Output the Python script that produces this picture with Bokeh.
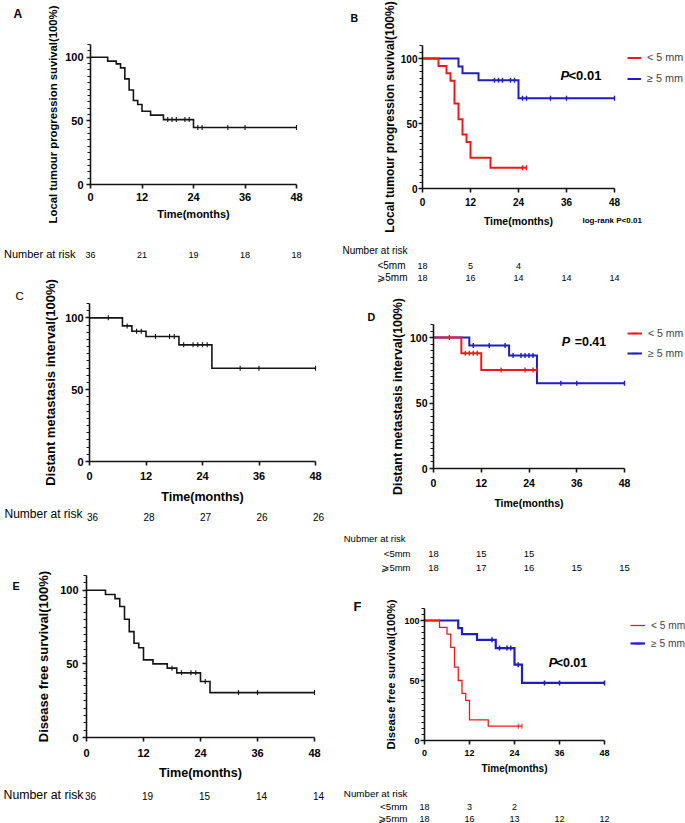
import numpy as np
from bokeh.plotting import figure
from bokeh.core.properties import value
from bokeh.models import (Range1d, FixedTicker, Label, LabelSet, ColumnDataSource,
                          Legend, LegendItem)
from bokeh.layouts import row, column
from bokeh.embed import file_html
from bokeh.resources import INLINE

# ------------------------------------------------------------------ data
x_ticks = [0, 12, 24, 36, 48]
y_ticks = [0, 50, 100]
y_minor = list(range(0, 111, 5))
risk_times = [0, 12, 24, 36, 48]
group_labels = ["< 5 mm", "\u2265 5 mm"]

# A: local tumour progression survival, all patients
a_t = [0, 4, 6, 7, 8, 9, 10, 11, 12, 14, 17, 24, 48]
a_s = [100, 96.9, 94.8, 91.6, 83.0, 74.3, 66.0, 62.8, 57.6, 54.5, 51.0, 44.8, 44.8]
a_c = [18, 19, 20, 22, 23, 25, 26, 32, 36, 48]
a_risk = [36, 21, 19, 18, 18]

# B: local tumour progression survival by margin
b_lo_t = [0, 4, 6, 7, 8, 9, 10, 11, 12, 17, 26]
b_lo_s = [100, 94.3, 88.7, 82.8, 65.3, 53.2, 41.6, 35.7, 23.7, 15.9, 15.9]
b_lo_c = [25, 26]
b_hi_t = [0, 9, 10, 14, 24, 48]
b_hi_s = [100, 93.8, 88.7, 83.3, 69.4, 69.4]
b_hi_c = [18, 19, 20, 22, 23, 25, 26, 32, 36, 48]
b_risk_lo = [18, 5, 4]
b_risk_hi = [18, 16, 14, 14, 14]

# C: distant metastasis interval, all patients
c_t = [0, 7, 9, 12, 19, 26, 48]
c_s = [100, 94.4, 90.7, 87.0, 81.2, 64.9, 64.9]
c_c = [4, 8, 10, 11, 14, 17, 18, 20, 22, 23, 24, 25, 32, 36, 48]
c_risk = [36, 28, 27, 26, 26]

# D: distant metastasis interval by margin
d_lo_t = [0, 7, 12, 26]
d_lo_s = [100, 88.0, 75.3, 75.3]
d_lo_c = [4, 8, 9, 10, 11, 17, 23, 25, 26]
d_hi_t = [0, 9, 19, 26, 48]
d_hi_s = [100, 93.9, 86.3, 65.1, 65.1]
d_hi_c = [10, 14, 18, 20, 22, 23, 24, 25, 32, 36, 48]
d_risk_lo = [18, 15, 15]
d_risk_hi = [18, 17, 16, 15, 15]

# E: disease free survival, all patients
e_t = [0, 4, 6, 7, 8, 9, 10, 11, 12, 14, 17, 19, 24, 26, 48]
e_s = [100, 97.1, 94.3, 88.9, 80.3, 71.9, 64.0, 60.9, 52.7, 50.0, 47.1, 43.9, 38.0, 30.5, 30.5]
e_c = [18, 20, 22, 23, 25, 32, 36, 48]
e_risk = [36, 19, 15, 14, 14]

# F: disease free survival by margin
f_lo_t = [0, 4, 6, 7, 8, 9, 10, 11, 12, 17, 26]
f_lo_s = [100, 94.2, 88.6, 77.6, 61.2, 50.0, 39.3, 33.5, 17.2, 11.9, 11.9]
f_lo_c = [25, 26]
f_hi_t = [0, 9, 10, 14, 19, 24, 26, 48]
f_hi_s = [100, 93.6, 88.6, 83.9, 77.0, 63.2, 48.0, 48.0]
f_hi_c = [18, 20, 22, 23, 25, 32, 36, 48]
f_risk_lo = [18, 3, 2]
f_risk_hi = [18, 16, 13, 12, 12]

# ------------------------------------------------------------------ style
FONT = "Liberation Sans"
RED = "#EE1A1A"
BLUE = "#1E1EC4"
BLACK = "#151515"


def step_value(times, surv, t):
    idx = 0
    for i, tt in enumerate(times):
        if tt <= t:
            idx = i
    return surv[idx]


def make_panel(cfg):
    W, H = cfg["W"], cfg["H"]
    ppx = cfg["w48"] / 48.0      # pixels per month
    ppy = cfg["h110"] / 110.0    # pixels per percent
    x_rng = Range1d(-cfg["X0"] / ppx, (W - cfg["X0"]) / ppx)
    y_rng = Range1d(-(H - cfg["Y0"]) / ppy, cfg["Y0"] / ppy)
    p = figure(width=W, height=H, x_range=x_rng, y_range=y_rng,
               output_backend="svg", toolbar_location=None,
               min_border=0, min_border_left=0, min_border_right=0,
               min_border_top=0, min_border_bottom=0)
    p.outline_line_color = None
    p.xgrid.visible = False
    p.ygrid.visible = False
    p.background_fill_color = "white"
    p.border_fill_color = "white"

    xa, ya = p.xaxis[0], p.yaxis[0]
    xa.fixed_location = 0
    ya.fixed_location = 0
    xa.ticker = FixedTicker(ticks=x_ticks, minor_ticks=[])
    xa.bounds = (0, 48)
    ya.ticker = FixedTicker(ticks=y_ticks, minor_ticks=y_minor)
    ya.bounds = (0, 110)
    xa.axis_label = "Time(months)"
    ya.axis_label = cfg["ylabel"]
    for ax, so, lso, tsize in ((xa, cfg["xs1"], cfg["xs2"], cfg["xtitle"]),
                               (ya, cfg["ys1"], cfg["ys2"], cfg["ytitle"])):
        ax.axis_line_width = 1.6
        ax.axis_line_color = BLACK
        ax.major_tick_line_width = 1.6
        ax.major_tick_line_color = BLACK
        ax.major_tick_in = 0
        ax.major_tick_out = 4
        ax.minor_tick_in = 0
        ax.minor_tick_out = 3
        ax.minor_tick_line_width = 1
        ax.minor_tick_line_color = BLACK
        ax.major_label_standoff = int(so)
        ax.axis_label_standoff = int(lso)
        ax.major_label_text_font = FONT
        ax.major_label_text_font_style = "bold"
        ax.major_label_text_font_size = f"{cfg['tick']}px"
        ax.major_label_text_color = "black"
        ax.axis_label_text_font = FONT
        ax.axis_label_text_font_style = "bold"
        ax.axis_label_text_font_size = f"{tsize}px"
        ax.axis_label_text_color = "black"

    group_renderers = []
    for times, surv, cens, color, lw in cfg["curves"]:
        ln = p.step(x=times, y=surv, mode="after", line_color=color, line_width=lw,
                    line_join="miter")
        cy = [step_value(times, surv, t) for t in cens]
        sc = p.scatter(x=cens, y=cy, marker="dash", angle=np.pi / 2, size=5,
                       line_color=color, line_width=max(1.0, lw * 0.7))
        group_renderers.append([ln, sc])

    # panel letter (anchored to the top of the y axis); yo is the baseline offset
    txt, size, style, xo, yo = cfg["letter"]
    p.add_layout(Label(x=0, y=110, x_offset=xo, y_offset=yo + round(size * 0.3), text=txt,
                       text_font=FONT, text_font_size=f"{size}px", text_font_style=style,
                       text_align="left", text_baseline="middle", text_color="black"))

    # number at risk: row labels
    for txt, xo, yo in cfg["risk_labels"]:
        p.add_layout(Label(x=0, y=0, x_offset=xo, y_offset=yo, text=txt,
                           text_font=FONT, text_font_size=f"{cfg['risk_size']}px",
                           text_align="right", text_baseline="middle", text_color="black"))
    # number at risk: counts
    for counts, yo in cfg["risk_rows"]:
        n = len(counts)
        src = ColumnDataSource(dict(x=risk_times[:n], y=[0] * n, text=[str(v) for v in counts]))
        p.add_layout(LabelSet(x="x", y="y", text="text", source=src,
                              x_offset=cfg.get("num_xo", 0), y_offset=yo,
                              text_font=value(FONT),
                              text_font_size=value(f"{cfg['num_size']}px"),
                              text_align="center", text_baseline="middle", text_color="black"))

    # P value
    if "pval" in cfg:
        px_, py_, rest, rest_xo, psize = cfg["pval"]
        p.add_layout(Label(x=px_, y=py_, text="P", text_font=FONT,
                           text_font_size=f"{psize}px", text_font_style="bold italic",
                           text_align="left", text_baseline="middle", text_color="black"))
        p.add_layout(Label(x=px_, y=py_, x_offset=rest_xo, text=rest, text_font=FONT,
                           text_font_size=f"{psize}px", text_font_style="bold",
                           text_align="left", text_baseline="middle", text_color="black"))
    for txt, nx, ny, nyo, nsize in cfg.get("notes", []):
        p.add_layout(Label(x=nx, y=ny, y_offset=nyo, text=txt, text_font=FONT,
                           text_font_size=f"{nsize}px", text_font_style="bold",
                           text_align="left", text_baseline="middle", text_color="black"))

    if "legend" in cfg:
        lx, ly, gw, ih, lsize = cfg["legend"]
        # groups drawn as [>=5 (blue), <5 (red)] ; legend lists <5 first
        items = [LegendItem(label=group_labels[0], renderers=group_renderers[1]),
                 LegendItem(label=group_labels[1], renderers=group_renderers[0])]
        lg = Legend(items=items, location=(lx, ly), orientation="vertical",
                    padding=0, margin=0, spacing=0, glyph_width=gw, glyph_height=ih,
                    label_height=ih, label_standoff=6, label_text_font=FONT,
                    label_text_font_size=f"{lsize}px", border_line_color=None,
                    background_fill_alpha=0)
        p.add_layout(lg)
    return p


cfg_a = dict(W=340, H=270, X0=90, Y0=184, w48=206, h110=140,
             ylabel="Local tumour progression suvival(100%)",
             letter=("A", 12, "bold", -77, 27), tick=11,
             xs1=4, xs2=4, xtitle=11, ys1=3, ys2=3, ytitle=11.3,
             curves=[(a_t, a_s, a_c, BLACK, 1.6)],
             risk_labels=[("Number at risk", -15, -69)], risk_size=11,
             risk_rows=[(a_risk, -70)], num_size=9)

cfg_b = dict(W=345, H=290, X0=82, Y0=188, w48=192, h110=143,
             ylabel="Local tumour progression suvival(100%)",
             letter=("B", 10.5, "bold", -72, 25), tick=10,
             xs1=5, xs2=6, xtitle=10.5, ys1=1, ys2=1, ytitle=12,
             curves=[(b_hi_t, b_hi_s, b_hi_c, BLUE, 2), (b_lo_t, b_lo_s, b_lo_c, RED, 2)],
             risk_labels=[("Number at risk", -15, -62), ("<5mm", -17, -77), ("\u2a7e5mm", -15, -89)],
             risk_size=10, risk_rows=[(b_risk_lo, -77), (b_risk_hi, -89)], num_size=9,
             pval=(34.5, 87, "<0.01", 8, 13),
             notes=[("log-rank P<0.01", 40, 0, -32, 8)],
             legend=(287, 201.5, 14, 21, 10.8))

cfg_c = dict(W=340, H=275, X0=89, Y0=191, w48=226, h110=158,
             ylabel="Distant metastasis interval(100%)",
             letter=("C", 11.5, "normal", -74, 5), tick=11,
             xs1=6, xs2=7, xtitle=12.5, ys1=2, ys2=4, ytitle=13,
             curves=[(c_t, c_s, c_c, BLACK, 1.6)],
             risk_labels=[("Number at risk", -7, -52)], risk_size=12,
             risk_rows=[(c_risk, -55)], num_size=10, num_xo=3)

cfg_d = dict(W=345, H=295, X0=93, Y0=178, w48=191, h110=144,
             ylabel="Distant metastasis interval(100%)",
             letter=("D", 10.7, "bold", -66, 5), tick=10.5,
             xs1=6, xs2=7, xtitle=10.5, ys1=2, ys2=2, ytitle=12.4,
             curves=[(d_hi_t, d_hi_s, d_hi_c, BLUE, 2), (d_lo_t, d_lo_s, d_lo_c, RED, 2)],
             risk_labels=[("Nubmer at risk", -28, -70), ("<5mm", -23, -85), ("\u2a7e5mm", -23, -99)],
             risk_size=9.5, risk_rows=[(d_risk_lo, -85), (d_risk_hi, -99)], num_size=9.5,
             pval=(32.2, 97, "=0.41", 13, 12.5),
             legend=(287, 222, 15, 20, 10.5))

cfg_e = dict(W=340, H=278, X0=86, Y0=192, w48=228, h110=162,
             ylabel="Disease free survival(100%)",
             letter=("E", 10.7, "bold", -74, -13), tick=11,
             xs1=7, xs2=6, xtitle=12.6, ys1=4, ys2=6, ytitle=13,
             curves=[(e_t, e_s, e_c, BLACK, 1.6)],
             risk_labels=[("Number at risk", -3, -57)], risk_size=12.3,
             risk_rows=[(e_risk, -58)], num_size=10, num_xo=4)

cfg_f = dict(W=345, H=238, X0=84, Y0=155, w48=180, h110=132,
             ylabel="Disease free survival(100%)",
             letter=("F", 13, "bold", -71, -2), tick=9,
             xs1=5, xs2=4, xtitle=10, ys1=1, ys2=4, ytitle=11.4,
             curves=[(f_hi_t, f_hi_s, f_hi_c, BLUE, 2.2), (f_lo_t, f_lo_s, f_lo_c, RED, 1.3)],
             risk_labels=[("Number at risk", -17, -53), ("<5mm", -17, -66), ("\u2a7e5mm", -17, -78)],
             risk_size=9.8, risk_rows=[(f_risk_lo, -66), (f_risk_hi, -78)], num_size=9,
             pval=(33.1, 64.4, "<0.01", 7, 12.5),
             legend=(290, 171, 15, 18, 10.2))

pa, pb, pc, pd, pe, pf = [make_panel(c) for c in (cfg_a, cfg_b, cfg_c, cfg_d, cfg_e, cfg_f)]

layout = row(column(pa, pc, pe), column(pb, pd, pf))

with open("out.html", "w") as fh:
    fh.write(file_html(layout, INLINE, title="Kaplan-Meier curves"))
